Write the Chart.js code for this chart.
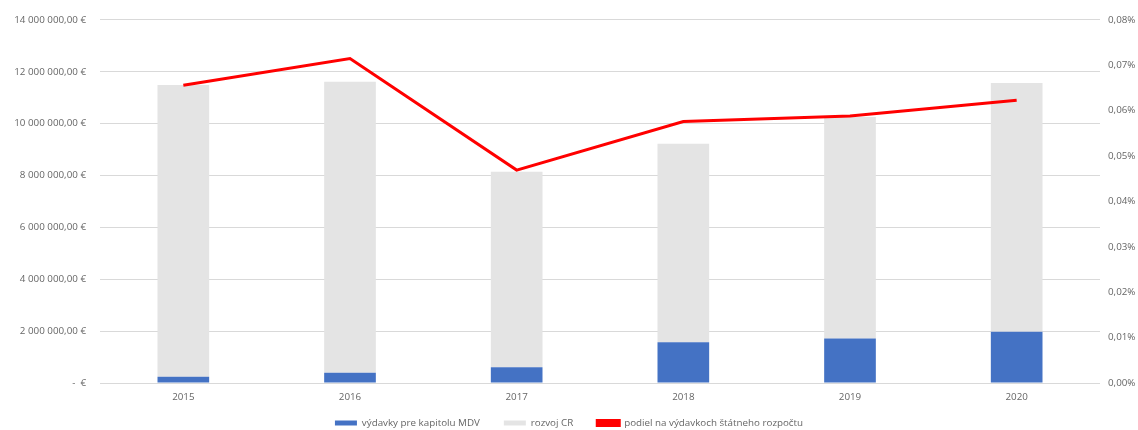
<!DOCTYPE html>
<html><head><meta charset="utf-8">
<script src="https://cdn.jsdelivr.net/npm/chart.js@4/dist/chart.umd.min.js"></script>
<style>html,body{margin:0;padding:0;background:#fff}#wrap{width:1138px;height:430px}</style>
</head><body><div id="wrap"><canvas id="c" width="1138" height="430"></canvas></div>
<script>
const categories = ['2015','2016','2017','2018','2019','2020'];
const mdv = [240000, 400000, 610000, 1570000, 1720000, 1980000];
const totalCR = [11490000, 11610000, 8140000, 9220000, 10260000, 11570000];
const rozvojCR = totalCR.map((t,i)=>t-mdv[i]);
const podiel = [0.0656, 0.0715, 0.0469, 0.0576, 0.0588, 0.0623];
const labelsSeries = ['výdavky pre kapitolu MDV','rozvoj CR','podiel na výdavkoch štátneho rozpočtu'];

function fmtEur(v){
  if (v === 0) return '-  €';
  const s = Math.round(v).toString().replace(/\B(?=(\d{3})+(?!\d))/g,' ');
  return s + ',00 €';
}
const font = {family:'"Open Sans", sans-serif', size:9.8};
const tcol = '#666666';
const LEG_PAD = 24;
const legendFitPlugin = {
  id:'legendFit',
  beforeLayout(chart){
    const lg = chart.legend;
    if (lg && !lg._patched){
      const orig = lg.fit;
      lg.fit = function(){ orig.call(this); this.height = 25; };
      lg._patched = true;
    }
  },
  afterLayout(chart){
    const lg = chart.legend;
    lg.top = 423 - LEG_PAD - 4.9;
    lg.bottom = 430;
    lg.height = lg.bottom - lg.top;
  }
};
new Chart(document.getElementById('c'), {
  type:'bar',
  data:{
    labels:categories,
    datasets:[
      {label:labelsSeries[0], data:mdv, backgroundColor:'#4472C4', yAxisID:'y', order:1, stack:'s', barPercentage:0.31, categoryPercentage:1},
      {label:labelsSeries[1], data:rozvojCR, backgroundColor:'#E4E4E4', yAxisID:'y', order:2, stack:'s', barPercentage:0.31, categoryPercentage:1},
      {label:labelsSeries[2], data:podiel, type:'line', borderColor:'#FF0000', backgroundColor:'#FF0000', borderWidth:3, pointRadius:0, yAxisID:'y1', order:0, tension:0}
    ]
  },
  plugins:[legendFitPlugin],
  options:{
    responsive:false, animation:false,
    layout:{padding:{top:15,bottom:0,left:0,right:0}},
    plugins:{
      legend:{position:'bottom', labels:{boxWidth:22, boxHeight:5, color:tcol, font:font, padding:LEG_PAD, sort:(a,b)=>a.datasetIndex-b.datasetIndex}},
      tooltip:{enabled:false}
    },
    scales:{
      x:{stacked:true, grid:{display:false, drawTicks:false}, border:{display:false}, ticks:{color:tcol, font:font, padding:8},
         afterFit:s=>{s.height=22;}},
      y:{stacked:true, min:0, max:14000000, position:'left',
         ticks:{stepSize:2000000, color:tcol, font:font, callback:v=>fmtEur(v), padding:14},
         grid:{color:'#D9D9D9', drawTicks:false}, border:{display:false},
         afterFit:s=>{s.width=100;}},
      y1:{min:0, max:0.08, position:'right',
         ticks:{stepSize:0.01, color:tcol, font:font, callback:v=>v.toFixed(2).replace('.',',')+'%', padding:8},
         grid:{drawOnChartArea:false, drawTicks:false}, border:{display:false},
         afterFit:s=>{s.width=38;}}
    }
  }
});
</script></body></html>
